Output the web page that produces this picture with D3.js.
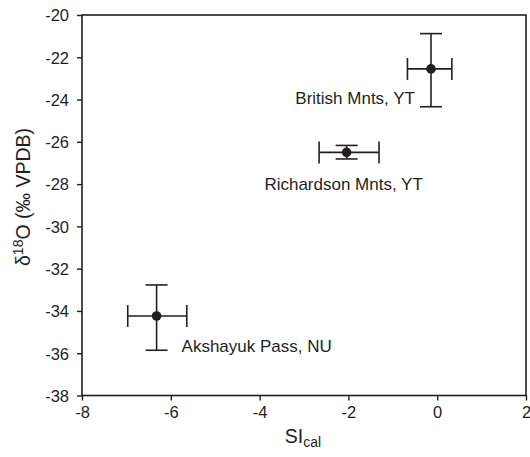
<!DOCTYPE html>
<html><head><meta charset="utf-8">
<script src="https://cdn.jsdelivr.net/npm/d3@7"></script>
<style>
body{margin:0;background:#fff;}
svg{display:block;font-family:"Liberation Sans",Arial,sans-serif;}
</style></head>
<body>
<svg id="chart" width="530" height="457"></svg>
<script>
const sites = ["British Mnts, YT", "Richardson Mnts, YT", "Akshayuk Pass, NU"];
const siCal = [-0.14, -2.04, -6.32];
const siLow = [-0.67, -2.66, -6.97];
const siHigh = [0.33, -1.31, -5.64];
const d18O = [-22.55, -26.5, -34.24];
const d18OLow = [-24.34, -26.81, -35.86];
const d18OHigh = [-20.88, -26.17, -32.77];
const xTicks = [-8, -6, -4, -2, 0, 2];
const yTicks = [-38, -36, -34, -32, -30, -28, -26, -24, -22, -20];

const svg = d3.select("#chart");
const m = {l: 82, r: 526, t: 15, b: 395.5};
const x = d3.scaleLinear().domain([-8, 2]).range([m.l, m.r]);
const y = d3.scaleLinear().domain([-38, -20]).range([m.b, m.t]);
const col = "#231f20";

const xAxis = svg.append("g").attr("transform", `translate(0,${m.b})`)
  .call(d3.axisBottom(x).tickValues(xTicks).tickSize(5).tickPadding(6).tickFormat(d3.format("d")));
const yAxis = svg.append("g").attr("transform", `translate(${m.l},0)`)
  .call(d3.axisLeft(y).tickValues(yTicks).tickSize(5).tickPadding(8).tickFormat(d3.format("d")));
[xAxis, yAxis].forEach(a => {
  a.select(".domain").remove();
  a.selectAll("line").attr("stroke", col).attr("stroke-width", 1.4);
  a.selectAll("text").attr("fill", col).style("font-size", "16.5px")
   .text(d => d < 0 ? "-" + Math.abs(d) : d);
});
yAxis.selectAll("text").attr("dy", "0.35em");

svg.append("rect").attr("x", m.l).attr("y", m.t).attr("width", m.r - m.l).attr("height", m.b - m.t)
  .attr("fill", "none").attr("stroke", col).attr("stroke-width", 1.6);

const cap = 11;
const g = svg.append("g").attr("stroke", col).attr("stroke-width", 1.6);
sites.forEach((s, i) => {
  const cx = x(siCal[i]), cy = y(d18O[i]);
  g.append("line").attr("x1", x(siLow[i])).attr("x2", x(siHigh[i])).attr("y1", cy).attr("y2", cy);
  g.append("line").attr("x1", x(siLow[i])).attr("x2", x(siLow[i])).attr("y1", cy - cap).attr("y2", cy + cap);
  g.append("line").attr("x1", x(siHigh[i])).attr("x2", x(siHigh[i])).attr("y1", cy - cap).attr("y2", cy + cap);
  g.append("line").attr("x1", cx).attr("x2", cx).attr("y1", y(d18OLow[i])).attr("y2", y(d18OHigh[i]));
  g.append("line").attr("x1", cx - cap).attr("x2", cx + cap).attr("y1", y(d18OLow[i])).attr("y2", y(d18OLow[i]));
  g.append("line").attr("x1", cx - cap).attr("x2", cx + cap).attr("y1", y(d18OHigh[i])).attr("y2", y(d18OHigh[i]));
  svg.append("circle").attr("cx", cx).attr("cy", cy).attr("r", 4.8).attr("fill", col);
});

const lab = svg.append("g").attr("fill", col).style("font-size", "17px");
lab.append("text").attr("x", x(siCal[0]) - 16).attr("y", y(d18O[0]) + 35).attr("text-anchor", "end").text(sites[0]);
lab.append("text").attr("x", x(siCal[1]) - 3).attr("y", y(d18O[1]) + 38).attr("text-anchor", "middle").text(sites[1]);
lab.append("text").attr("x", x(siCal[2]) + 25).attr("y", y(d18O[2]) + 36).attr("text-anchor", "start").text(sites[2]);

const xt = svg.append("text").attr("x", 303).attr("y", 443).attr("text-anchor", "middle").attr("fill", col).style("font-size", "19.5px");
xt.append("tspan").text("SI");
xt.append("tspan").attr("dy", 4).style("font-size", "14px").text("cal");

const yt = svg.append("text").attr("transform", "translate(30,197) rotate(-90)").attr("text-anchor", "middle").attr("fill", col).style("font-size", "19.5px");
yt.append("tspan").text("δ");
yt.append("tspan").attr("dy", -7).style("font-size", "14px").text("18");
yt.append("tspan").attr("dy", 7).text("O (‰ VPDB)");
</script>
</body></html>
